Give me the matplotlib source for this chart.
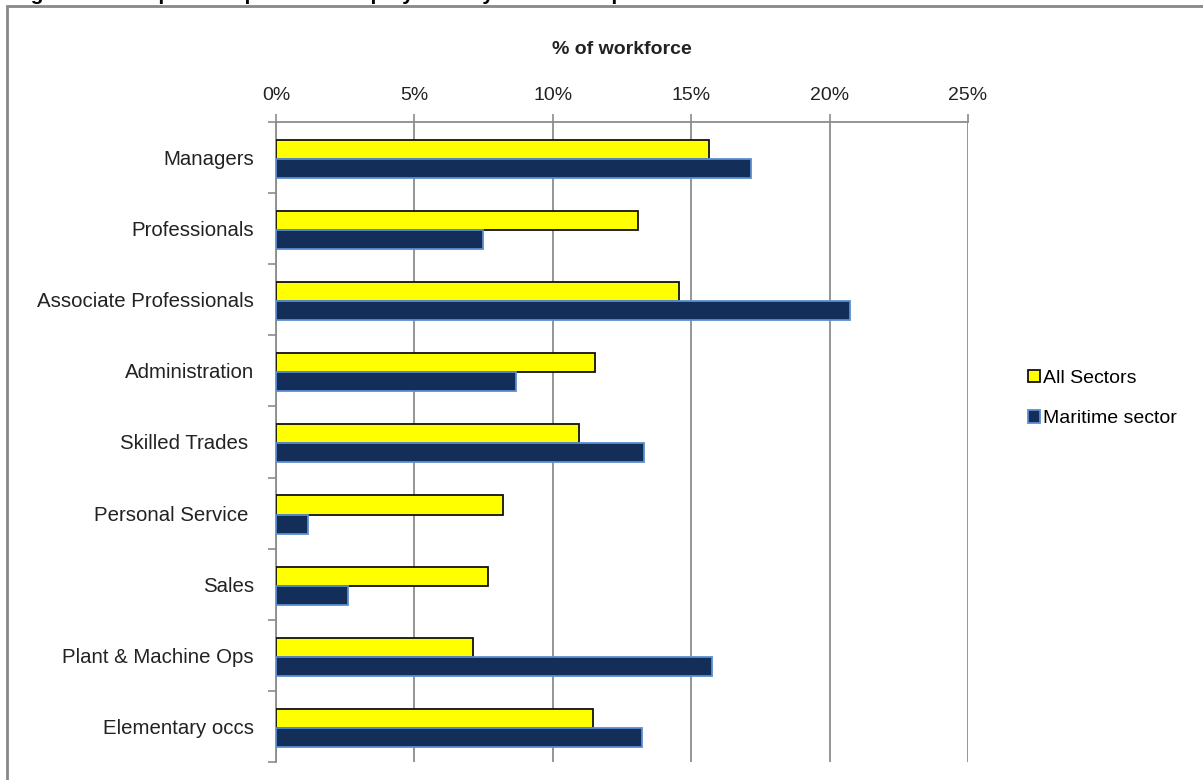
import matplotlib.pyplot as plt
import numpy as np
from matplotlib.patches import Rectangle
from matplotlib.ticker import FuncFormatter

plt.rcParams['font.family'] = ['Liberation Sans', 'DejaVu Sans']

    #Datos
categorias = ['Managers', 'Professionals', 'Associate Professionals', 'Administration',
              'Skilled Trades ', 'Personal Service ', 'Sales', 'Plant & Machine Ops',
              'Elementary occs']
todos = [15.63, 13.06, 14.57, 11.52, 10.94, 8.21, 7.67, 7.12, 11.44]
maritimo = [17.16, 7.48, 20.74, 8.68, 13.30, 1.17, 2.59, 15.75, 13.22]
ticks_x = [0, 5, 10, 15, 20, 25]

amarillo = '#FFFF00'
azul = '#132F59'
gris = '#8C8C8C'

fig = plt.figure(figsize=(12.03, 7.80), dpi=100)
ax = fig.add_axes([0.2294, 0.0231, 0.8047 - 0.2294, 0.8436 - 0.0231])

    #Barras
y = np.arange(len(categorias))
h = 0.268
ax.barh(y - h/2 + 0.02, todos, height=h, color=amarillo, edgecolor='#111111', linewidth=1.3,
        label='All Sectors', zorder=3)
ax.barh(y + h/2 + 0.02, maritimo, height=h, color=azul, edgecolor='#5B8FD0', linewidth=1.3,
        label='Maritime sector', zorder=3)

    #Ejes
ax.set_xlim(0, 25)
ax.set_ylim(len(categorias) - 0.5, -0.5)
ax.xaxis.tick_top()
ax.set_xticks(ticks_x)
ax.xaxis.set_major_formatter(FuncFormatter(lambda v, p: '%d%%' % v))
ax.tick_params(axis='x', length=6, width=1.2, color=gris, pad=7, labelsize=14,
               labelcolor='#222222')
ax.set_yticks(y)
ax.set_yticklabels(categorias)
ax.set_yticks(np.arange(len(categorias) + 1) - 0.5, minor=True)
ax.tick_params(axis='y', which='major', length=0, pad=16, labelsize=14.7, labelcolor='#222222')
ax.tick_params(axis='y', which='minor', length=6, width=1.2, color=gris)
ax.grid(axis='x', color=gris, linewidth=1.3, zorder=0)
for lado in ('right', 'bottom'):
    ax.spines[lado].set_visible(False)
for lado in ('top', 'left'):
    ax.spines[lado].set_color(gris)
    ax.spines[lado].set_linewidth(1.3)

fig.text(0.517, 0.936, '% of workforce', ha='center', va='center', fontsize=14,
         fontweight='bold', color='#222222')

    #Leyenda
ax.legend(loc='center left', bbox_to_anchor=(0.840, 0.489), bbox_transform=fig.transFigure,
          frameon=False, fontsize=14, handlelength=0.6, handleheight=0.6,
          handletextpad=0.15, labelspacing=1.2)

    #Marco gris y titulo cortado arriba
fig.patches.append(Rectangle((7/1203, -0.1), 1.2, 1 - 6/780 + 0.1, transform=fig.transFigure,
                             fill=False, edgecolor='#888888', linewidth=2))
fig.text(12/1203, 1.0, 'Figure 6: Occupational profile of employment by sector compared',
         ha='left', va='baseline', fontsize=15, fontweight='bold', color='black')

plt.savefig('out.png', dpi=100)
